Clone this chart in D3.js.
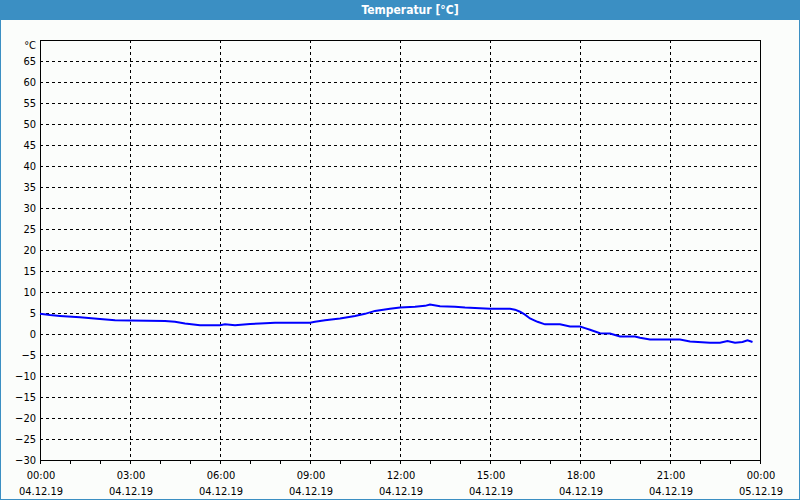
<!DOCTYPE html>
<html>
<head>
<meta charset="utf-8">
<script src="https://cdn.jsdelivr.net/npm/d3@7"></script>
<style>
  body { margin: 0; background: #fbfdfb; }
  text { font-family: "DejaVu Sans Condensed", "DejaVu Sans", sans-serif; font-size: 11px; fill: #000; }
</style>
</head>
<body>
<div id="chart"></div>
<script>
// temperature readings, 04.12.19
var times = ["00:00","00:20","00:40","01:20","02:00","02:30","03:00","04:10","04:30","04:50",
  "05:20","06:00","06:10","06:30","07:00","07:20","07:50","09:00","09:10","09:30",
  "10:00","10:30","10:50","11:10","11:40","12:00","12:30","12:50","13:00","13:20",
  "13:50","14:10","15:00","15:40","15:50","16:00","16:10","16:20","16:35","16:50",
  "17:20","17:40","18:00","18:10","18:20","18:40","19:00","19:20","19:50","20:00",
  "20:20","21:20","21:40","22:20","22:40","22:55","23:10","23:25","23:35","23:45"];
var temps = [4.8,4.5,4.3,4.0,3.6,3.3,3.2,3.1,2.9,2.5,
  2.1,2.1,2.3,2.1,2.4,2.5,2.7,2.7,2.9,3.3,
  3.7,4.3,4.8,5.5,6.0,6.3,6.5,6.7,7.0,6.6,
  6.5,6.3,6.0,6.0,5.8,5.3,4.6,3.7,2.9,2.3,
  2.3,1.8,1.8,1.4,1.0,0.2,0.1,-0.6,-0.6,-0.9,
  -1.3,-1.3,-1.8,-2.1,-2.1,-1.7,-2.1,-1.9,-1.5,-1.9];
var yTicks = [-30,-25,-20,-15,-10,-5,0,5,10,15,20,25,30,35,40,45,50,55,60,65];
var xTickLabels = [["00:00","04.12.19"],["03:00","04.12.19"],["06:00","04.12.19"],["09:00","04.12.19"],
  ["12:00","04.12.19"],["15:00","04.12.19"],["18:00","04.12.19"],["21:00","04.12.19"],["00:00","05.12.19"]];

var width = 800, height = 500;
var pLeft = 40, pRight = 760, pTop = 40, pBottom = 460;

var parseT = d3.timeParse("%d.%m.%y %H:%M");
var start = parseT("04.12.19 00:00"), end = parseT("05.12.19 00:00");

var svg = d3.select("#chart").append("svg")
  .attr("width", width).attr("height", height);

svg.append("rect").attr("x", 0.5).attr("y", 0.5).attr("width", width - 1).attr("height", height - 1)
  .attr("fill", "#fbfdfb").attr("stroke", "#3b8fc3");
svg.append("rect").attr("x", 0).attr("y", 0).attr("width", width).attr("height", 20).attr("fill", "#3b8fc3");
svg.append("text").attr("x", 410).attr("y", 14).attr("text-anchor", "middle")
  .style("fill", "#fff").style("font-weight", "bold").style("font-size", "12px")
  .text("Temperatur [°C]");

var x = d3.scaleTime().domain([start, end]).range([pLeft, pRight]);
var y = d3.scaleLinear().domain([-30, 70]).range([pBottom, pTop]);

var majors = d3.timeHour.every(3).range(start, d3.timeMinute.offset(end, 1));
var hours = d3.timeHour.every(1).range(start, d3.timeMinute.offset(end, 1));

// grid
var grid = svg.append("g").attr("stroke", "#000").attr("stroke-dasharray", "3,3").attr("shape-rendering", "crispEdges");
grid.selectAll(".hg").data(yTicks.slice(1)).enter().append("line")
  .attr("x1", pLeft).attr("x2", pRight)
  .attr("y1", function(d){ return Math.round(y(d)) + 0.5; })
  .attr("y2", function(d){ return Math.round(y(d)) + 0.5; });
grid.selectAll(".vg").data(majors.slice(1, -1)).enter().append("line")
  .attr("y1", pTop).attr("y2", pBottom)
  .attr("x1", function(d){ return Math.round(x(d)) + 0.5; })
  .attr("x2", function(d){ return Math.round(x(d)) + 0.5; });

// frame
svg.append("rect").attr("x", pLeft + 0.5).attr("y", pTop + 0.5)
  .attr("width", pRight - pLeft).attr("height", pBottom - pTop)
  .attr("fill", "none").attr("stroke", "#000").attr("shape-rendering", "crispEdges");

// x axis
var xAxis = svg.append("g").attr("transform", "translate(0," + (pBottom + 0.5) + ")")
  .call(d3.axisBottom(x).tickValues(hours).tickSize(3).tickFormat(""));
xAxis.select(".domain").remove();
xAxis.selectAll("line").attr("shape-rendering", "crispEdges");

var xl = svg.append("g").selectAll("text").data(majors).enter().append("text")
  .attr("text-anchor", "middle")
  .attr("transform", function(d){ return "translate(" + (x(d) + 1) + ",0)"; });
xl.append("tspan").attr("x", 0).attr("y", 479).text(function(d, i){ return xTickLabels[i][0]; });
xl.append("tspan").attr("x", 0).attr("y", 495).text(function(d, i){ return xTickLabels[i][1]; });

// y axis
var yAxis = svg.append("g").attr("transform", "translate(" + pLeft + ",0)")
  .call(d3.axisLeft(y).tickValues(yTicks).tickSize(0).tickPadding(4));
yAxis.select(".domain").remove();
yAxis.attr("font-family", null).attr("font-size", null);
svg.append("text").attr("x", 36).attr("y", 49).attr("text-anchor", "end").text("°C");

// line
var data = times.map(function(t, i){ return {date: parseT("04.12.19 " + t), v: temps[i]}; });
svg.append("path").datum(data)
  .attr("fill", "none").attr("stroke", "#0000ff").attr("stroke-width", 2)
  .attr("d", d3.line().x(function(d){ return x(d.date); }).y(function(d){ return y(d.v); }));
</script>
</body>
</html>
